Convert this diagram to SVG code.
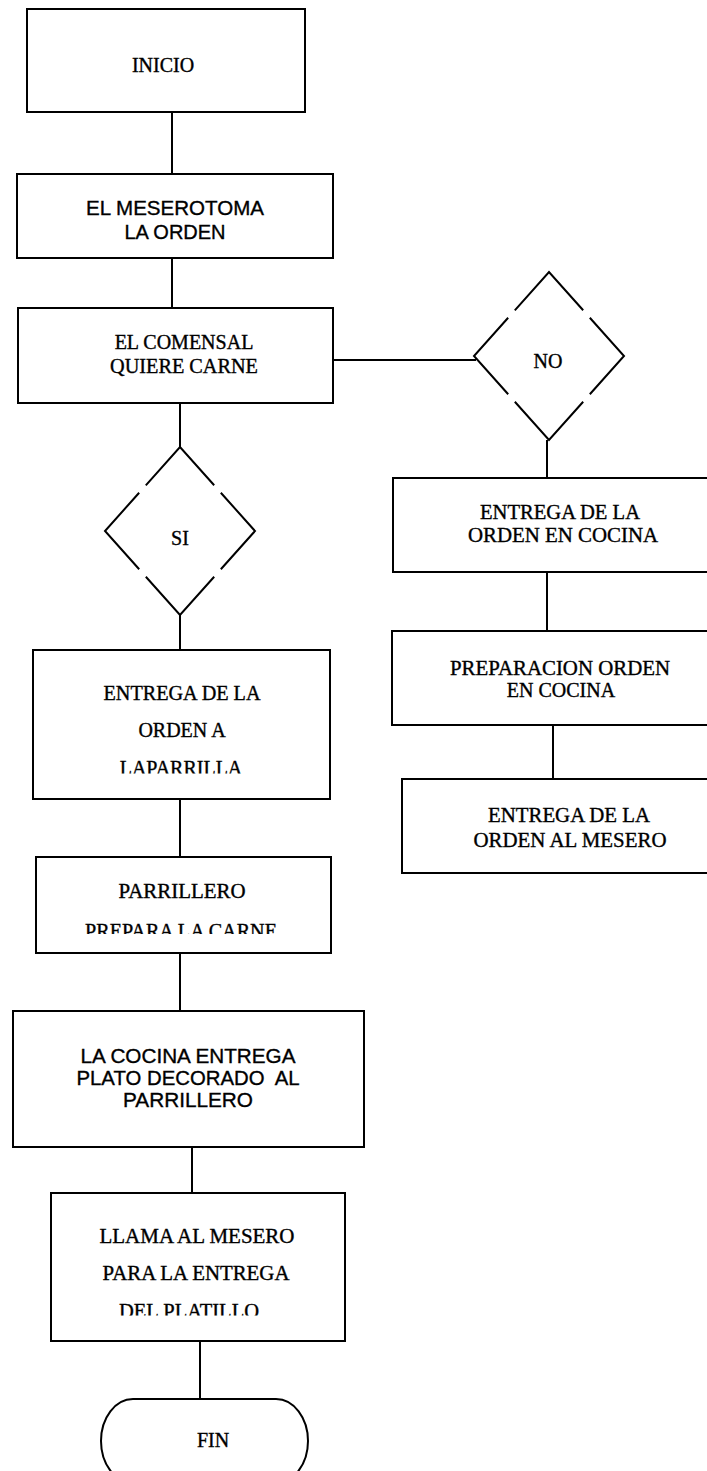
<svg xmlns="http://www.w3.org/2000/svg" width="707" height="1471" viewBox="0 0 707 1471">
<style>
.box{fill:#fff;stroke:#000;stroke-width:2}
.dia{fill:#fff;stroke:#000;stroke-width:2;stroke-dasharray:102.6 10;stroke-dashoffset:51.3;stroke-linejoin:miter}
.ln{stroke:#000;stroke-width:2;fill:none}
.s{font-family:"Liberation Serif","Times New Roman",serif;font-size:20px;fill:#000;stroke:#000;stroke-width:0.35;text-anchor:middle}
.a{font-family:"Liberation Sans",Arial,sans-serif;font-size:20px;fill:#000;stroke:#000;stroke-width:0.35;text-anchor:middle}
</style>
<defs>
<clipPath id="c1"><rect x="0" y="740" width="400" height="33.5"/></clipPath>
<clipPath id="c2"><rect x="0" y="910" width="400" height="24"/></clipPath>
<clipPath id="c3"><rect x="0" y="1290" width="400" height="25.5"/></clipPath>
</defs>
<rect width="707" height="1471" fill="#fff"/>
<g id="connectors">
<line class="ln" x1="172" y1="112" x2="172" y2="174"/>
<line class="ln" x1="172" y1="258" x2="172" y2="308"/>
<line class="ln" x1="333" y1="360" x2="476" y2="360"/>
<line class="ln" x1="180" y1="403" x2="180" y2="447"/>
<line class="ln" x1="180" y1="615" x2="180" y2="650"/>
<line class="ln" x1="180" y1="799" x2="180" y2="857"/>
<line class="ln" x1="180" y1="953" x2="180" y2="1011"/>
<line class="ln" x1="192" y1="1147" x2="192" y2="1193"/>
<line class="ln" x1="200" y1="1341" x2="200" y2="1399"/>
<line class="ln" x1="547" y1="440" x2="547" y2="478"/>
<line class="ln" x1="547" y1="572" x2="547" y2="631"/>
<line class="ln" x1="553" y1="725" x2="553" y2="779"/>
</g>
<g id="inicio">
<rect class="box" x="27" y="9" width="278" height="103"/>
<text class="s" x="163" y="72" font-size="19">INICIO</text>
</g>
<g id="mesero-toma">
<rect class="box" x="17" y="174" width="316" height="84"/>
<text class="a" x="175" y="215" textLength="178" lengthAdjust="spacingAndGlyphs">EL MESEROTOMA</text>
<text class="a" x="175" y="239">LA ORDEN</text>
</g>
<g id="comensal">
<rect class="box" x="18" y="308" width="315" height="95"/>
<text class="s" x="184" y="349" font-size="21">EL COMENSAL</text>
<text class="s" x="184" y="373" font-size="21" textLength="148" lengthAdjust="spacingAndGlyphs">QUIERE CARNE</text>
</g>
<g id="no">
<path class="dia" d="M549 272 L624 356 L549 440 L474 356 Z"/>
<text class="s" x="548" y="368">NO</text>
</g>
<g id="si">
<path class="dia" d="M180 447 L255 531 L180 615 L105 531 Z"/>
<text class="s" x="180" y="545" font-size="19">SI</text>
</g>
<g id="entrega-parrilla">
<rect class="box" x="33" y="650" width="297" height="149"/>
<text class="s" x="182" y="700" textLength="157" lengthAdjust="spacingAndGlyphs">ENTREGA DE LA</text>
<text class="s" x="182" y="737">ORDEN A</text>
<text class="s" x="181" y="775" clip-path="url(#c1)">LAPARRILLA</text>
</g>
<g id="parrillero">
<rect class="box" x="36" y="857" width="295" height="96"/>
<text class="s" x="182" y="898" textLength="127" lengthAdjust="spacingAndGlyphs">PARRILLERO</text>
<text class="s" x="181" y="938" clip-path="url(#c2)" textLength="192" lengthAdjust="spacingAndGlyphs">PREPARA LA CARNE</text>
</g>
<g id="cocina-entrega">
<rect class="box" x="13" y="1011" width="351" height="136"/>
<text class="a" x="188" y="1063" textLength="215" lengthAdjust="spacingAndGlyphs">LA COCINA ENTREGA</text>
<text class="a" x="188" y="1085" xml:space="preserve" textLength="223" lengthAdjust="spacingAndGlyphs">PLATO DECORADO  AL</text>
<text class="a" x="188" y="1107" textLength="130" lengthAdjust="spacingAndGlyphs">PARRILLERO</text>
</g>
<g id="llama-mesero">
<rect class="box" x="51" y="1193" width="294" height="148"/>
<text class="s" x="197" y="1243" textLength="195" lengthAdjust="spacingAndGlyphs">LLAMA AL MESERO</text>
<text class="s" x="196" y="1280" textLength="187" lengthAdjust="spacingAndGlyphs">PARA LA ENTREGA</text>
<text class="s" x="189" y="1318" clip-path="url(#c3)" textLength="140" lengthAdjust="spacingAndGlyphs">DEL PLATILLO</text>
</g>
<g id="fin">
<rect class="box" x="101" y="1399" width="207" height="84" rx="32" ry="42"/>
<text class="s" x="213" y="1447" font-size="17">FIN</text>
</g>
<g id="entrega-cocina">
<rect class="box" x="393" y="478" width="320" height="94"/>
<text class="s" x="560" y="519" textLength="160" lengthAdjust="spacingAndGlyphs">ENTREGA DE LA</text>
<text class="s" x="563" y="542" textLength="190" lengthAdjust="spacingAndGlyphs">ORDEN EN COCINA</text>
</g>
<g id="preparacion">
<rect class="box" x="392" y="631" width="321" height="94"/>
<text class="s" x="560" y="675" textLength="220" lengthAdjust="spacingAndGlyphs">PREPARACION ORDEN</text>
<text class="s" x="561" y="697">EN COCINA</text>
</g>
<g id="entrega-mesero">
<rect class="box" x="402" y="779" width="311" height="94"/>
<text class="s" x="569" y="822" textLength="162" lengthAdjust="spacingAndGlyphs">ENTREGA DE LA</text>
<text class="s" x="570" y="847" textLength="193" lengthAdjust="spacingAndGlyphs">ORDEN AL MESERO</text>
</g>
</svg>
